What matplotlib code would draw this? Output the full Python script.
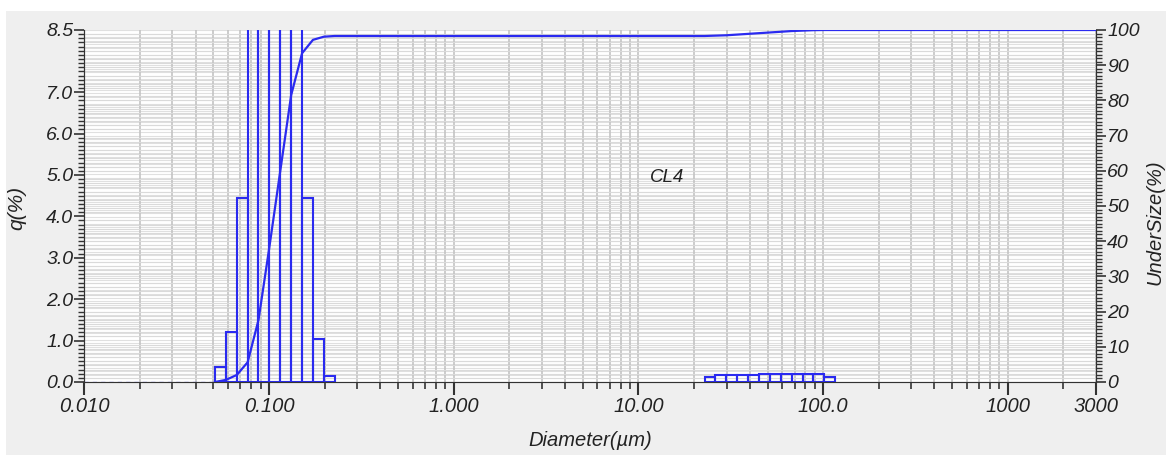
import numpy as np
import matplotlib
matplotlib.use("Agg")
import matplotlib.pyplot as plt
from matplotlib.patches import Rectangle
from matplotlib.ticker import FixedLocator, FixedFormatter, LogLocator, MultipleLocator, NullFormatter

# frequency histogram q(%) -- bin edges (um) and heights
fine_edges = [0.0510, 0.0584, 0.0669, 0.0766, 0.0877, 0.1005, 0.1151,
              0.1318, 0.1510, 0.1729, 0.1981, 0.2269]
fine_q = [0.37, 1.21, 4.45, 11.5, 20.0, 21.5, 21.0, 12.3, 4.45, 1.03, 0.15]

coarse_edges = [22.797, 26.111, 29.907, 34.255, 39.234, 44.938, 51.471,
                58.953, 67.523, 77.339, 88.583, 101.46, 116.21]
coarse_q = [0.13, 0.16, 0.17, 0.18, 0.18, 0.19, 0.19, 0.20, 0.20, 0.20, 0.19, 0.12]

# cumulative undersize curve (%)
under_d = [0.0510, 0.0584, 0.0669, 0.0766, 0.0877, 0.1005, 0.1151, 0.1318,
           0.1510, 0.1729, 0.1981, 0.2269, 22.797, 29.907, 39.234, 51.471,
           67.523, 88.583, 101.46, 3000]
under_pct = [0.0, 0.6, 2.0, 5.6, 17.6, 38.4, 60.0, 81.5, 93.4, 97.2, 98.1,
             98.3, 98.3, 98.5, 98.9, 99.3, 99.7, 99.95, 100.0, 100.0]

xtick_vals = [0.01, 0.1, 1, 10, 100, 1000, 3000]
xtick_labels = ["0.010", "0.100", "1.000", "10.00", "100.0", "1000", "3000"]
ytick_vals = [0, 1, 2, 3, 4, 5, 6, 7, 8.5]
ytick_labels = ["0.0", "1.0", "2.0", "3.0", "4.0", "5.0", "6.0", "7.0", "8.5"]

blue = "#2a2af0"
font = ["Liberation Sans", "DejaVu Sans"]
plt.rcParams["font.family"] = font

fig = plt.figure(figsize=(11.66, 4.55), dpi=100, facecolor="white")
fig.patches.append(Rectangle((6 / 1166, 0), 1, 1 - 11 / 455, transform=fig.transFigure,
                             facecolor="#efefef", edgecolor="none", zorder=-10))

ax = fig.add_axes([84.3 / 1166, 1 - 382 / 455, (1096 - 84.3) / 1166, 352 / 455])
ax.set_facecolor("white")
ax.set_xscale("log")
ax.set_xlim(0.01, 3000)
ax.set_ylim(0, 8.5)

# gridlines: vertical at log major+minor, horizontal for both y scales
ax.xaxis.set_minor_locator(LogLocator(base=10, subs=np.arange(2, 10)))
ax.xaxis.set_minor_formatter(NullFormatter())
ax.xaxis.set_major_locator(FixedLocator(xtick_vals))
ax.xaxis.set_major_formatter(FixedFormatter(xtick_labels))
ax.yaxis.set_major_locator(FixedLocator(ytick_vals))
ax.yaxis.set_major_formatter(FixedFormatter(ytick_labels))
ax.yaxis.set_minor_locator(MultipleLocator(0.1))
ax.grid(True, which="both", axis="x", color="#c4c4c4", lw=1.2)
ax.grid(True, which="minor", axis="y", color="#dadada", lw=0.8)
ax.set_axisbelow(True)

ax2 = ax.twinx()
ax2.set_ylim(0, 100)
ax2.yaxis.set_major_locator(MultipleLocator(10))
ax2.yaxis.set_minor_locator(MultipleLocator(1))
ax.hlines(np.arange(0, 101, 1), 0, 1, transform=ax2.get_yaxis_transform(),
          colors="#e0e0e0", lw=0.8, zorder=0.5)

# histogram outlines
for edges, q in [(fine_edges, fine_q), (coarse_edges, coarse_q)]:
    e = np.array(edges)
    ax.bar(e[:-1], q, width=np.diff(e), align="edge", fill=False,
           edgecolor=blue, lw=1.5, zorder=3)

ax.plot([0.01, fine_edges[0]], [0, 0], color=blue, lw=1, ls=(0, (3, 3)), alpha=0.5, zorder=3)
ax2.plot(under_d, under_pct, color=blue, lw=1.6, zorder=3)

for a in (ax, ax2):
    for s in a.spines.values():
        s.set_color("#333333")
    a.spines["top"].set_visible(False)
ax.spines["bottom"].set_color("#888888")

ax.tick_params(axis="y", which="major", length=7, width=1.2, color="#333333",
               labelsize=14, pad=1)
ax.tick_params(axis="y", which="minor", length=4, width=1, color="#333333")
ax.tick_params(axis="x", which="major", length=9, width=1.5, color="#333333",
               labelsize=14.5, pad=2)
ax.tick_params(axis="x", which="minor", length=5, width=1.2, color="#333333")
ax2.tick_params(axis="y", which="major", length=7, width=1.2, color="#333333",
                labelsize=14, pad=1)
ax2.tick_params(axis="y", which="minor", length=4, width=1, color="#333333")

for lab in ax.get_xticklabels() + ax.get_yticklabels() + ax2.get_yticklabels():
    lab.set_fontstyle("italic")
    lab.set_color("#222222")

fig.text(17 / 1166, 1 - 208 / 455, "q(%)", rotation=90, ha="center", va="center",
         fontsize=15, style="italic", color="#222222")
fig.text(1155 / 1166, 1 - 222 / 455, "UnderSize(%)", rotation=90, ha="center", va="center",
         fontsize=14.5, style="italic", color="#222222")
fig.text(590 / 1166, 1 - 441 / 455, "Diameter(\u00b5m)", ha="center", va="center",
         fontsize=14.5, style="italic", color="#222222")
ax.text(0.576, 0.58, "CL4", transform=ax.transAxes, ha="center", va="center",
        fontsize=13.5, style="italic", color="#222222")

fig.savefig("out.png", dpi=100, facecolor=fig.get_facecolor())
